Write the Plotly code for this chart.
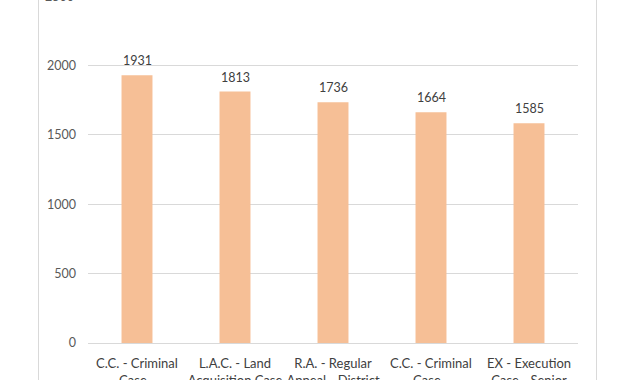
import plotly.graph_objects as go

categories = [
    "C.C. - Criminal<br>Case -",
    "L.A.C. - Land<br>Acquisition Case",
    "R.A. - Regular<br>Appeal - District",
    "C.C. - Criminal<br>Case -",
    "EX - Execution<br>Case - Senior",
]
values = [1931, 1813, 1736, 1664, 1585]
y_ticks = [0, 500, 1000, 1500, 2000, 2500]

W, H = 634, 380
L, R = 88, 56
T, B = 0, 36.7
plot_w = W - L - R
plot_h = H - T - B
px_per_unit = 277.6 / 2000
y_top = plot_h / px_per_unit

FONT = "Lato"
GRAY = "#595959"
LINE = "#D9D9D9"

x_idx = list(range(len(categories)))

fig = go.Figure()
fig.add_trace(go.Bar(
    x=x_idx, y=values,
    marker=dict(color="#F6BF96", line=dict(width=0)),
    hoverinfo="y",
))

# data labels above each bar
for i, v in zip(x_idx, values):
    fig.add_annotation(
        x=i, y=v, xref="x", yref="y", text=str(v), showarrow=False,
        yanchor="middle", yshift=14.5,
        font=dict(family=FONT, size=12.5, color="#404040"),
    )

fig.update_layout(
    width=W, height=H,
    margin=dict(l=L, r=R, t=T, b=B, autoexpand=False),
    paper_bgcolor="white", plot_bgcolor="white",
    bargap=0.684,
    showlegend=False,
    font=dict(family=FONT, size=13, color=GRAY),
)
fig.update_xaxes(
    tickmode="array", tickvals=x_idx, ticktext=categories,
    range=[-0.5, len(categories) - 0.5],
    showgrid=False, showline=True, linecolor=LINE, linewidth=1,
    ticks="", automargin=False, tickangle=0,
    tickfont=dict(family=FONT, size=13, color="#404040"),
    ticklabelstandoff=8,
)
fig.update_yaxes(
    range=[0, y_top],
    tickmode="array", tickvals=y_ticks, ticktext=[str(t) for t in y_ticks],
    showgrid=True, gridcolor=LINE, gridwidth=1,
    zeroline=False, showline=False, ticks="", automargin=False,
    tickfont=dict(family=FONT, size=12.5, color=GRAY),
    ticklabelstandoff=11,
)

# the 2500 tick sits just above the visible area; only its lower part shows
top_tick = y_ticks[-1]
fig.add_annotation(
    xref="paper", yref="paper",
    x=(76 - L) / plot_w, y=(top_tick * px_per_unit) / plot_h,
    text=str(top_tick), showarrow=False, xanchor="right", yanchor="middle",
    font=dict(family=FONT, size=12.5, color=GRAY),
)

# chart-area border (left and right edges visible)
fig.add_shape(
    type="rect", xref="paper", yref="paper",
    x0=(38.5 - L) / plot_w, x1=(596.5 - L) / plot_w,
    y0=-0.5, y1=1.5,
    line=dict(color=LINE, width=1), fillcolor="rgba(0,0,0,0)", layer="below",
)

fig.write_html(
    "out.html",
    config={"displayModeBar": False},
    post_script="document.body.style.margin='0';document.body.style.overflow='hidden';",
)
